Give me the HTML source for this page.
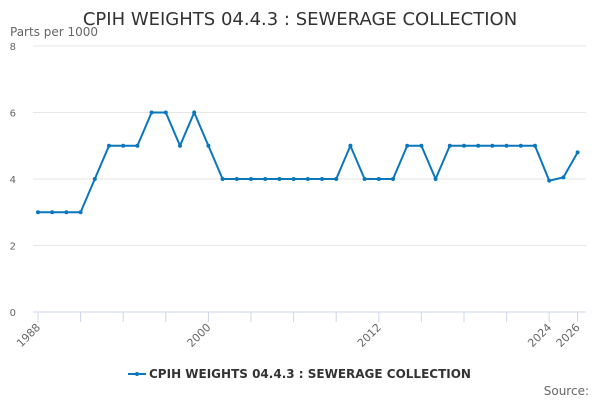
<!DOCTYPE html>
<html><head><meta charset="utf-8"><style>
body{margin:0;background:#fff;font-family:"Liberation Sans","DejaVu Sans",sans-serif;}
svg text{font-family:"DejaVu Sans","Liberation Sans",sans-serif;}
</style></head><body>
<svg id="c" width="600" height="400" xmlns="http://www.w3.org/2000/svg">
<text x="300" y="25" text-anchor="middle" font-size="18" fill="#333">CPIH WEIGHTS 04.4.3 : SEWERAGE COLLECTION</text>
<text x="10" y="36" font-size="12" fill="#666">Parts per 1000</text>
<g id="grid"></g><g id="xax"></g><g id="series"></g>
<g>
<line x1="128" y1="374" x2="146" y2="374" stroke="#0a77bd" stroke-width="2"/>
<circle cx="137" cy="374" r="2" fill="#0a77bd"/>
<text x="149" y="378" font-size="12" font-weight="bold" fill="#333">CPIH WEIGHTS 04.4.3 : SEWERAGE COLLECTION</text>
</g>
<text x="589" y="395" text-anchor="end" font-size="12" fill="#666">Source:</text>
</svg>
<script>
const years=[1988,1989,1990,1991,1992,1993,1994,1995,1996,1997,1998,1999,2000,2001,2002,2003,2004,2005,2006,2007,2008,2009,2010,2011,2012,2013,2014,2015,2016,2017,2018,2019,2020,2021,2022,2023,2024,2025,2026];
const values=[3,3,3,3,4,5,5,5,6,6,5,6,5,4,4,4,4,4,4,4,4,4,5,4,4,4,5,5,4,5,5,5,5,5,5,5,3.95,4.05,4.8];
const yTicks=[0,2,4,6,8];
const xLabels=[1988,2000,2012,2024,2026];
const xTickYears=[1988,1991,1994,1997,2000,2003,2006,2009,2012,2015,2018,2021,2024,2026];
const NS="http://www.w3.org/2000/svg";
const X=y=>38+(y-1988)*14.2;
const Y=v=>312-v*33.25;
function mk(t,a,p){const e=document.createElementNS(NS,t);for(const k in a)e.setAttribute(k,a[k]);p.appendChild(e);return e;}
const g=document.getElementById('grid');
yTicks.forEach(v=>{
 const l=mk('line',{x1:33,x2:586,y1:Y(v),y2:Y(v),stroke:v===0?'#ccd6eb':'#e6e6e6','stroke-width':1},g);
 
 
 const t=mk('text',{x:16,y:Y(v)+4,'text-anchor':'end','font-size':10,fill:'#666'},g);t.textContent=v;
 
 
});
const xa=document.getElementById('xax');
xTickYears.forEach(y=>{
 const l=mk('line',{x1:X(y),x2:X(y),y1:312,y2:322,stroke:'#ccd6eb'},xa);
 
 
});
xLabels.forEach(y=>{
 const t=mk('text',{x:X(y)+3,y:328,'text-anchor':'end','font-size':11,fill:'#666',transform:`rotate(-45 ${X(y)+3} 328)`},xa);t.textContent=y;
 
 
});
const s=document.getElementById('series');
const pl=mk('polyline',{points:years.map((y,i)=>X(y)+','+Y(values[i])).join(' '),fill:'none',stroke:'#0a77bd','stroke-width':2},s);


years.forEach((y,i)=>{
 const c=mk('circle',{cx:X(y),cy:Y(values[i]),r:2,fill:'#0a77bd'},s);
 
 
});
</script>
</body></html>
